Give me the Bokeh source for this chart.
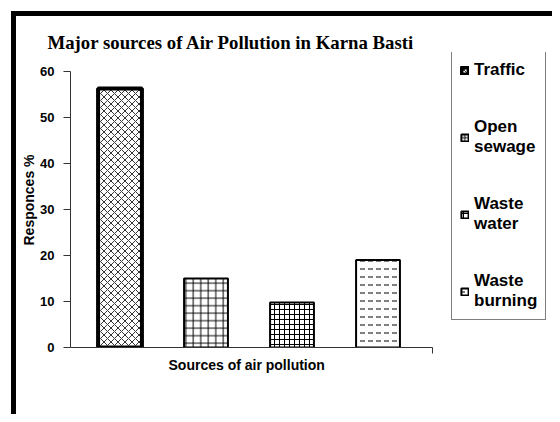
from bokeh.plotting import figure
from bokeh.models import Range1d, FixedTicker, Legend, LegendItem, ColumnDataSource, Title
from bokeh.embed import file_html
from bokeh.resources import INLINE

categories = ["Traffic", "Open\nsewage", "Waste\nwater", "Waste\nburning"]
values = [56.3, 15.0, 9.8, 19.0]
y_ticks = [0, 10, 20, 30, 40, 50, 60]

title_text = "Major sources of Air Pollution in Karna Basti"
x_label = "Sources of air pollution"
y_label = "Responces %"

positions = [i + 1 for i in range(len(categories))]

X0, X1, X_AXIS_END = 0.4244, 6.087, 4.634
p = figure(width=541, height=403, output_backend="svg", toolbar_location=None,
           x_range=Range1d(X0, X1), y_range=Range1d(0, 64.13),
           min_border_left=54, min_border_right=0, min_border_top=36, min_border_bottom=72)
p.styles = {"border-top": "5px solid black", "border-left": "5px solid black",
            "transform": "translate(11px, 11px)"}

p.grid.visible = False
p.outline_line_color = None
p.background_fill_color = "white"
p.border_fill_color = "white"

p.title.text = title_text
p.title.align = "left"
p.title.offset = -23
p.title.standoff = 0
p.title.text_font = "Liberation Serif"
p.title.text_font_style = "bold"
p.title.text_font_size = "18.8px"
p.title.text_color = "black"

styles = [
    dict(hatch_pattern="diagonal_cross", hatch_scale=7, hatch_weight=0.8, line_width=4),
    dict(hatch_pattern="cross", hatch_scale=7.5, hatch_weight=1, line_width=2),
    dict(hatch_pattern="cross", hatch_scale=5, hatch_weight=1, line_width=2),
    dict(hatch_pattern="horizontal_dash", hatch_scale=8, hatch_weight=1, line_width=2),
]

items = []
for pos, cat, val, st in zip(positions, categories, values, styles):
    src = ColumnDataSource(dict(x=[pos], top=[val]))
    r = p.vbar(x="x", top="top", bottom=0, width=0.51, source=src,
               fill_color="white", line_color="black", hatch_color="black", **st)
    items.append(LegendItem(label=cat, renderers=[r]))

legend = Legend(items=items, location=(381, 27), orientation="vertical",
                glyph_width=9, glyph_height=9, label_standoff=5, spacing=37,
                padding=8, margin=0, border_line_color="black", border_line_width=1,
                label_text_font="Liberation Sans", label_text_font_style="bold",
                label_text_font_size="17px", label_text_color="black",
                background_fill_color="white", background_fill_alpha=1)
p.add_layout(legend, "center")

p.yaxis.ticker = FixedTicker(ticks=y_ticks)
p.yaxis.bounds = (0, 60)
p.yaxis.minor_tick_line_color = None
p.yaxis.major_tick_in = 0
p.yaxis.major_tick_out = 7
p.yaxis.major_label_text_font = "Liberation Sans"
p.yaxis.major_label_text_font_style = "bold"
p.yaxis.major_label_text_font_size = "13px"
p.yaxis.major_label_text_color = "black"
p.yaxis.major_label_standoff = 9
p.yaxis.axis_line_color = "#333333"
p.yaxis.major_tick_line_color = "#333333"
p.yaxis.axis_label = y_label
p.yaxis.axis_label_text_font = "Liberation Sans"
p.yaxis.axis_label_text_font_style = "bold"
p.yaxis.axis_label_text_font_size = "14px"
p.yaxis.axis_label_text_color = "black"
p.yaxis.axis_label_standoff = 0

p.xaxis.ticker = FixedTicker(ticks=[X_AXIS_END])
p.xaxis.bounds = (X0, X_AXIS_END)
p.xaxis.major_label_overrides = {X_AXIS_END: ""}
p.xaxis.minor_tick_line_color = None
p.xaxis.major_tick_in = 0
p.xaxis.major_tick_out = 6
p.xaxis.major_tick_line_color = "#333333"
p.xaxis.axis_line_color = "#333333"

xlab = Title(text=x_label, align="left", offset=98, standoff=3,
             text_font="Liberation Sans", text_font_style="bold",
             text_font_size="14px", text_color="black")
p.add_layout(xlab, "below")

open("out.html", "w").write(file_html(p, INLINE))
